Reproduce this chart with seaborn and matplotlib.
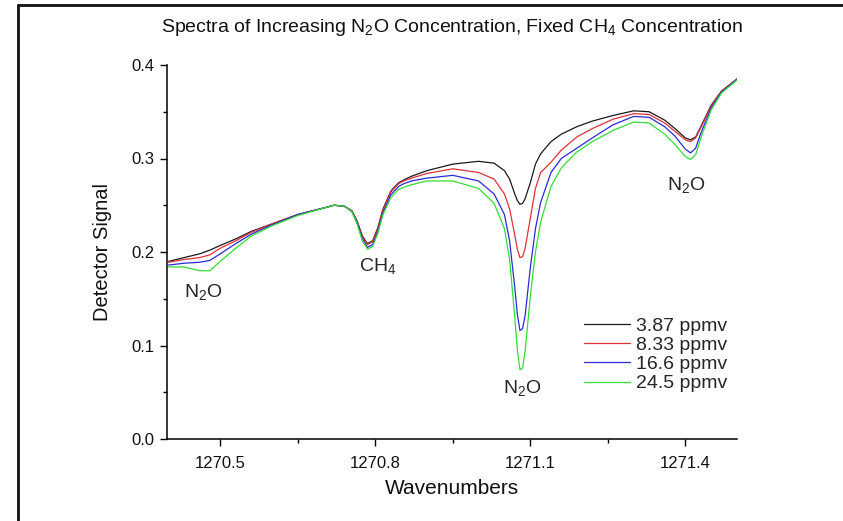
import numpy as np
import pandas as pd
import seaborn as sns
import matplotlib
matplotlib.use("Agg")
import matplotlib.pyplot as plt
from matplotlib.ticker import MultipleLocator, FixedLocator, FormatStrFormatter
from matplotlib.lines import Line2D

wavenumber = [1270.40, 1270.43, 1270.46, 1270.48, 1270.50, 1270.53, 1270.56, 1270.60, 1270.65, 1270.70,
              1270.72, 1270.74, 1270.755, 1270.765, 1270.775, 1270.785, 1270.795, 1270.805, 1270.815, 1270.83,
              1270.845, 1270.855, 1270.87, 1270.90, 1270.95, 1271.00, 1271.03, 1271.05, 1271.06, 1271.07,
              1271.075, 1271.08, 1271.085, 1271.09, 1271.10, 1271.11, 1271.12, 1271.14, 1271.16, 1271.19,
              1271.22, 1271.26, 1271.30, 1271.33, 1271.36, 1271.38, 1271.40, 1271.41, 1271.42, 1271.43,
              1271.45, 1271.47, 1271.50]

sig_387 = [0.190, 0.194, 0.198, 0.202, 0.207, 0.214, 0.222, 0.230, 0.240, 0.247,
           0.250, 0.249, 0.244, 0.233, 0.217, 0.209, 0.212, 0.226, 0.246, 0.265,
           0.274, 0.277, 0.281, 0.287, 0.294, 0.297, 0.295, 0.287, 0.278, 0.262,
           0.255, 0.251, 0.252, 0.257, 0.274, 0.294, 0.305, 0.318, 0.326, 0.334,
           0.340, 0.346, 0.351, 0.350, 0.341, 0.332, 0.322, 0.320, 0.323, 0.334,
           0.357, 0.372, 0.385]

sig_833 = [0.189, 0.192, 0.194, 0.197, 0.204, 0.212, 0.221, 0.230, 0.240, 0.247,
           0.250, 0.249, 0.244, 0.232, 0.216, 0.208, 0.211, 0.225, 0.245, 0.264,
           0.273, 0.276, 0.279, 0.284, 0.289, 0.285, 0.278, 0.262, 0.246, 0.218,
           0.203, 0.194, 0.195, 0.204, 0.236, 0.268, 0.285, 0.296, 0.309, 0.323,
           0.332, 0.342, 0.348, 0.347, 0.338, 0.329, 0.320, 0.318, 0.322, 0.333,
           0.356, 0.372, 0.385]

sig_166 = [0.186, 0.188, 0.189, 0.191, 0.198, 0.209, 0.219, 0.229, 0.240, 0.247,
           0.250, 0.249, 0.243, 0.231, 0.214, 0.205, 0.208, 0.222, 0.242, 0.261,
           0.270, 0.273, 0.276, 0.279, 0.282, 0.276, 0.262, 0.240, 0.212, 0.162,
           0.133, 0.116, 0.118, 0.132, 0.183, 0.225, 0.253, 0.285, 0.300, 0.311,
           0.322, 0.336, 0.345, 0.344, 0.334, 0.324, 0.310, 0.306, 0.311, 0.327,
           0.354, 0.371, 0.385]

sig_245 = [0.184, 0.184, 0.180, 0.180, 0.190, 0.204, 0.217, 0.228, 0.239, 0.247,
           0.250, 0.249, 0.243, 0.230, 0.212, 0.203, 0.206, 0.220, 0.240, 0.258,
           0.267, 0.269, 0.272, 0.276, 0.276, 0.268, 0.252, 0.225, 0.192, 0.130,
           0.095, 0.074, 0.076, 0.094, 0.152, 0.200, 0.232, 0.270, 0.290, 0.307,
           0.318, 0.330, 0.339, 0.338, 0.326, 0.315, 0.302, 0.299, 0.304, 0.322,
           0.352, 0.370, 0.384]

series_labels = ["3.87 ppmv", "8.33 ppmv", "16.6 ppmv", "24.5 ppmv"]
series_colors = ["#1a1a1a", "#e0303a", "#2a2ad8", "#33dd33"]
x_ticks = [1270.5, 1270.8, 1271.1, 1271.4]
x_tick_labels = ["1270.5", "1270.8", "1271.1", "1271.4"]
y_ticks = [0.0, 0.1, 0.2, 0.3, 0.4]

frames = []
for lab, vals in zip(series_labels, [sig_387, sig_833, sig_166, sig_245]):
    frames.append(pd.DataFrame({"Wavenumbers": wavenumber, "Signal": vals, "Conc": lab}))
df = pd.concat(frames, ignore_index=True)

sns.set_theme(style="white")
plt.rcParams["font.family"] = ["Liberation Sans", "DejaVu Sans"]
plt.rcParams["mathtext.fontset"] = "custom"
plt.rcParams["mathtext.rm"] = "Liberation Sans"
plt.rcParams["mathtext.it"] = "Liberation Sans:italic"

fig = plt.figure(figsize=(8.43, 5.21), dpi=100)
ax = fig.add_axes([167/843, 1 - 439/521, (737-167)/843, (439-65)/521])

sns.lineplot(data=df, x="Wavenumbers", y="Signal", hue="Conc", palette=series_colors,
             hue_order=series_labels, linewidth=0.9, ax=ax, legend=True, sort=False)

ax.set_xlim(1270.397, 1271.500)
ax.set_ylim(0.0, 0.4)
for s in ["top", "right"]:
    ax.spines[s].set_visible(False)
for s in ["left", "bottom"]:
    ax.spines[s].set_color("black")
    ax.spines[s].set_linewidth(1.1)

ax.xaxis.set_major_locator(FixedLocator(x_ticks))
ax.set_xticklabels(x_tick_labels)
ax.xaxis.set_minor_locator(FixedLocator([1270.65, 1270.95, 1271.25]))
ax.yaxis.set_major_locator(FixedLocator(y_ticks))
ax.yaxis.set_minor_locator(MultipleLocator(0.05))
ax.yaxis.set_major_formatter(FormatStrFormatter("%.1f"))
ax.tick_params(which="major", direction="out", length=5, width=1, color="black",
               labelsize=12, labelcolor="#111111", bottom=True, left=True, pad=4)
ax.tick_params(axis="x", which="major", pad=7)
ax.tick_params(which="minor", direction="out", length=3, width=1, color="black",
               bottom=True, left=True)

ax.set_xlabel("Wavenumbers", fontsize=15, labelpad=6, color="#111111")
ax.set_ylabel("Detector Signal", fontsize=14.5, labelpad=14, color="#111111")
fig.text(452/843, 1 - 27/521,
         r"Spectra of Increasing N$\mathregular{_2}$O Concentration, Fixed CH$\mathregular{_4}$ Concentration",
         ha="center", va="center", fontsize=14, color="#111111")

ax.text(1270.467, 0.157, r"N$\mathregular{_2}$O", ha="center", va="center", fontsize=14)
ax.text(1270.805, 0.185, r"CH$\mathregular{_4}$", ha="center", va="center", fontsize=14)
ax.text(1271.084, 0.055, r"N$\mathregular{_2}$O", ha="center", va="center", fontsize=14)
ax.text(1271.401, 0.272, r"N$\mathregular{_2}$O", ha="center", va="center", fontsize=14)

leg = ax.legend(loc="center left", bbox_to_anchor=(0.731, 0.225), frameon=False,
                fontsize=14, handlelength=2.4, handletextpad=0.3, labelspacing=0.08,
                borderpad=0, borderaxespad=0, title=None)
for h in leg.get_lines():
    h.set_linewidth(0.9)

# figure border (top and left edges visible)
fig.add_artist(Line2D([18/843, 1.0], [1 - 5/521, 1 - 5/521], transform=fig.transFigure,
                      color="#111111", linewidth=2))
fig.add_artist(Line2D([18/843, 18/843], [0.0, 1 - 5/521], transform=fig.transFigure,
                      color="#111111", linewidth=2))

fig.savefig("out.png", dpi=100)
